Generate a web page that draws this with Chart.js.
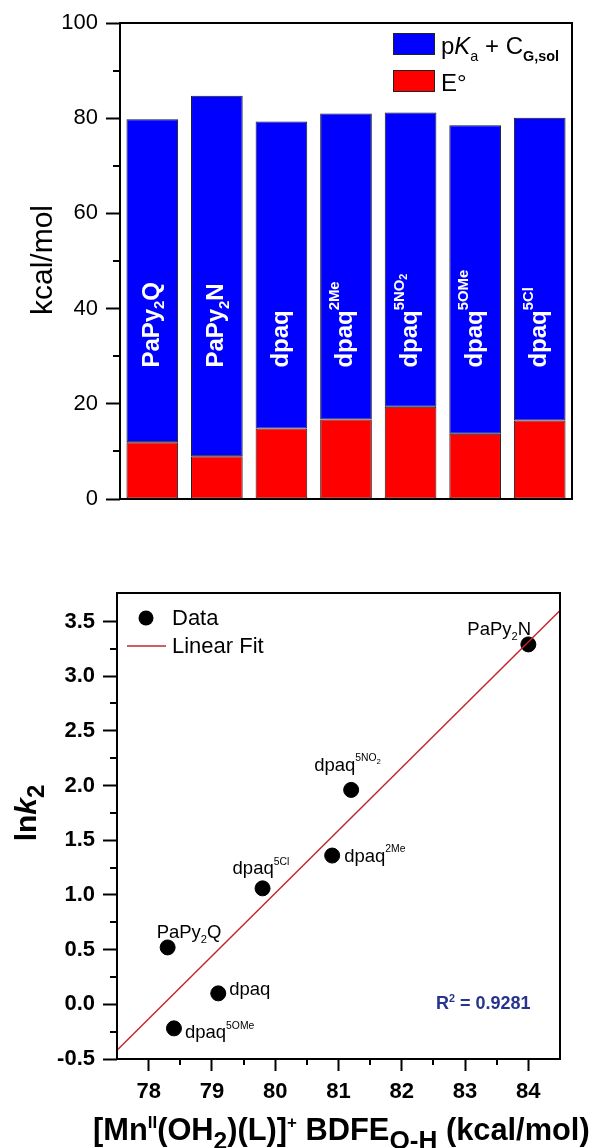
<!DOCTYPE html>
<html><head><meta charset="utf-8">
<script src="https://cdn.jsdelivr.net/npm/chart.js@4.4.0/dist/chart.umd.min.js"></script>
<style>
html,body{margin:0;padding:0;background:#fff;width:593px;height:1148px;overflow:hidden}
#w1{position:absolute;left:0;top:0;width:593px;height:540px}
#w2{position:absolute;left:0;top:560px;width:593px;height:588px}
canvas{display:block}
</style></head><body>
<div id="w1"><canvas id="c1" width="593" height="540"></canvas></div>
<div id="w2"><canvas id="c2" width="593" height="588"></canvas></div>
<script>
// ---------- DATA ----------
const categories = ['PaPy2Q', 'PaPy2N', 'dpaq', 'dpaq2Me', 'dpaq5NO2', 'dpaq5OMe', 'dpaq5Cl'];
const eValues   = [11.9, 9.0, 14.8, 16.7, 19.4, 13.7, 16.5];
const pkaValues = [67.9, 75.7, 64.5, 64.3, 61.8, 64.8, 63.6];
const barYTicks = [0, 20, 40, 60, 80, 100];
const barYMinor = [10, 30, 50, 70, 90];

// same order as categories
const bdfe = [78.3, 84.0, 79.1, 80.9, 81.2, 78.4, 79.8];
const lnk2 = [0.52, 3.29, 0.10, 1.36, 1.96, -0.22, 1.06];
const fitX = [77.5, 84.5];
const fitY = [-0.42, 3.60];
const scatterXTicks = [78, 79, 80, 81, 82, 83, 84];
const scatterXMinor = [78.5, 79.5, 80.5, 81.5, 82.5, 83.5];
const scatterYTicks = [-0.5, 0, 0.5, 1, 1.5, 2, 2.5, 3, 3.5];
const scatterYMinor = [-0.25, 0.25, 0.75, 1.25, 1.75, 2.25, 2.75, 3.25];
const r2Text = '0.9281';

// rich text for the category names (text + kind)
const categoryRich = [
  [['PaPy','n'],['2','sub'],['Q','n']],
  [['PaPy','n'],['2','sub'],['N','n']],
  [['dpaq','n']],
  [['dpaq','n'],['2Me','sup']],
  [['dpaq','n'],['5NO','sup'],['2','supsub']],
  [['dpaq','n'],['5OMe','sup']],
  [['dpaq','n'],['5Cl','sup']]
];
const legendTop = [
  [['p','n'],['K','ni'],['a','sub'],[' + C','n'],['G,sol','subb']],
  [['E°','n']]
];
const xTitleRich = [['[Mn','n'],['II','sup'],['(OH','n'],['2','sub'],[')(L)]','n'],['+','sup'],[' BDFE','n'],['O-H','sub2'],[' (kcal/mol)','n']];
const yTitleRich = [['ln','n'],['k','ni'],['2','sub']];

// ---------- helpers ----------
const FONT = '"Liberation Sans", Arial, Helvetica, sans-serif';
Chart.defaults.font.family = FONT;
Chart.defaults.color = '#000';

function fontStr(size, weight, italic){ return (italic?'italic ':'normal ') + weight + ' ' + size + 'px ' + FONT; }
function drawRich(ctx, parts, x, y, base, styles, measureOnly){
  ctx.save(); ctx.textAlign='left'; ctx.textBaseline='alphabetic'; ctx.fillStyle = base.color || '#000';
  let cx = x;
  for (const [t, kind] of parts){
    const st = styles[kind] || {};
    const size = base.size * (st.s || 1);
    ctx.font = fontStr(size, st.w || base.weight, st.i);
    if (!measureOnly) ctx.fillText(t, cx, y + (st.dy || 0) * base.size);
    cx += ctx.measureText(t).width;
  }
  ctx.restore();
  return cx - x;
}

// ---------- TOP CHART ----------
const barLabelStyles = {
  n:{}, sub:{s:0.62, dy:0.22}, sup:{s:0.62, dy:-0.55}, supsub:{s:0.45, dy:-0.42}
};
const legendStyles = {
  n:{}, ni:{i:true}, sub:{s:0.6, dy:0.3}, subb:{s:0.6, dy:0.3, w:'bold'}
};
const topPlugin = {
  id:'topDecor',
  afterDatasetsDraw(chart){
    const ctx = chart.ctx, ys = chart.scales.y;
    const meta = chart.getDatasetMeta(0);
    const startY = ys.getPixelForValue(27.6);
    const size = 24;
    categoryRich.forEach((parts, i) => {
      const cx = meta.data[i].x;
      ctx.save();
      ctx.translate(cx, startY);
      ctx.rotate(-Math.PI/2);
      drawRich(ctx, parts, 0, 0.27*size, {size, weight:'bold', color:'#fff'}, barLabelStyles);
      ctx.restore();
    });
  },
  afterDraw(chart){
    const ctx = chart.ctx, ca = chart.chartArea, ys = chart.scales.y;
    ctx.save();
    ctx.strokeStyle = '#000'; ctx.lineWidth = 2;
    ctx.strokeRect(ca.left, ca.top, ca.right - ca.left, ca.bottom - ca.top);
    ctx.beginPath();
    barYMinor.forEach(v => { const p = Math.round(ys.getPixelForValue(v)); ctx.moveTo(ca.left - 7, p); ctx.lineTo(ca.left, p); });
    ctx.stroke();
    // legend
    const rows = [{c:'#0000ff', y:33}, {c:'#ff0000', y:70}];
    rows.forEach((r, i) => {
      ctx.fillStyle = r.c; ctx.fillRect(393, r.y, 42, 22);
      ctx.lineWidth = 1; ctx.strokeStyle = '#222'; ctx.strokeRect(393.5, r.y + 0.5, 41, 21);
      drawRich(ctx, legendTop[i], 441, r.y + 21, {size:24, weight:'normal', color:'#000'}, legendStyles);
    });
    // y title
    ctx.translate(52, (ca.top + ca.bottom)/2 - 1);
    ctx.rotate(-Math.PI/2);
    ctx.font = fontStr(30, 'normal'); ctx.fillStyle = '#000'; ctx.textAlign = 'center'; ctx.textBaseline = 'alphabetic';
    ctx.fillText('kcal/mol', 0, 0);
    ctx.restore();
  }
};

new Chart(document.getElementById('c1'), {
  type:'bar',
  data:{
    labels: categories,
    datasets:[
      {label:'E°', data:eValues, backgroundColor:'#ff0000', borderColor:'#1a1a1a', borderWidth:1, borderSkipped:false, barPercentage:0.8, categoryPercentage:1},
      {label:'pKa + CG,sol', data:pkaValues, backgroundColor:'#0000ff', borderColor:'#1a1a1a', borderWidth:1, borderSkipped:false, barPercentage:0.8, categoryPercentage:1}
    ]
  },
  options:{
    responsive:false, animation:false, devicePixelRatio:1,
    layout:{padding:{left:0, top:23, right:21, bottom:0}},
    plugins:{legend:{display:false}, tooltip:{enabled:false}},
    scales:{
      x:{stacked:true, ticks:{display:false}, grid:{display:false, drawTicks:false}, border:{display:false},
         afterFit:s => { s.height = 41; }},
      y:{stacked:true, min:0, max:100,
         afterBuildTicks:s => { s.ticks = barYTicks.map(v => ({value:v})); },
         ticks:{color:'#000', font:{size:22}, padding:8},
         grid:{drawOnChartArea:false, drawTicks:true, tickLength:14, tickWidth:2, tickColor:'#000'},
         border:{display:false},
         afterFit:s => { s.width = 120; }}
    }
  },
  plugins:[topPlugin]
});

// ---------- BOTTOM CHART ----------
const ptStyles = { n:{}, sub:{s:0.6, dy:0.25}, sup:{s:0.56, dy:-0.52}, supsub:{s:0.42, dy:-0.4} };
const ptLabelOffsets = [[-11,-9],[-61,-9],[11,2],[12,6],[-37,-19],[11,10],[-30,-14]];
const titleStyles = { n:{}, ni:{i:true}, sup:{s:0.55, dy:-0.4}, sub:{s:0.8, dy:0.28}, sub2:{s:0.85, dy:0.3} };

const bottomPlugin = {
  id:'bottomDecor',
  afterDatasetsDraw(chart){
    const ctx = chart.ctx, xs = chart.scales.x, ys = chart.scales.y;
    categoryRich.forEach((parts, i) => {
      const px = xs.getPixelForValue(bdfe[i]), py = ys.getPixelForValue(lnk2[i]);
      const o = ptLabelOffsets[i];
      drawRich(ctx, parts, px + o[0], py + o[1], {size:18.5, weight:'normal', color:'#000'}, ptStyles);
    });
  },
  afterDraw(chart){
    const ctx = chart.ctx, ca = chart.chartArea, xs = chart.scales.x, ys = chart.scales.y;
    ctx.save();
    ctx.strokeStyle = '#000'; ctx.lineWidth = 2;
    ctx.strokeRect(ca.left, ca.top, ca.right - ca.left, ca.bottom - ca.top);
    ctx.beginPath();
    scatterYMinor.forEach(v => { const p = Math.round(ys.getPixelForValue(v)); ctx.moveTo(ca.left - 7, p); ctx.lineTo(ca.left, p); });
    scatterXMinor.forEach(v => { const p = Math.round(xs.getPixelForValue(v)); ctx.moveTo(p, ca.bottom); ctx.lineTo(p, ca.bottom + 6); });
    ctx.stroke();
    // legend
    ctx.fillStyle = '#000';
    ctx.beginPath(); ctx.arc(146, 58, 7.5, 0, Math.PI*2); ctx.fill();
    ctx.strokeStyle = '#c0272d'; ctx.lineWidth = 1.5;
    ctx.beginPath(); ctx.moveTo(127, 86); ctx.lineTo(166, 86); ctx.stroke();
    ctx.font = fontStr(22, 'normal'); ctx.textAlign = 'left'; ctx.textBaseline = 'alphabetic'; ctx.fillStyle = '#000';
    ctx.fillText('Data', 172, 65);
    ctx.fillText('Linear Fit', 172, 93);
    // R^2
    drawRich(ctx, [['R','n'],['2','sup'],[' = ' + r2Text,'n']], 436, 449, {size:18, weight:'bold', color:'#26348c'}, {n:{}, sup:{s:0.6, dy:-0.4}});
    // x title
    drawRich(ctx, xTitleRich, 93, 580, {size:30.8, weight:'bold', color:'#000'}, titleStyles);
    // y title
    const w = drawRich(ctx, yTitleRich, 0, 0, {size:30, weight:'bold'}, titleStyles, true);
    ctx.translate(36, 253);
    ctx.rotate(-Math.PI/2);
    drawRich(ctx, yTitleRich, -w/2, 0, {size:30, weight:'bold', color:'#000'}, titleStyles);
    ctx.restore();
  }
};

new Chart(document.getElementById('c2'), {
  type:'scatter',
  data:{
    datasets:[
      {type:'line', label:'Linear Fit', data: fitX.map((x, i) => ({x, y:fitY[i]})), borderColor:'#c0272d', borderWidth:1.5, pointRadius:0, fill:false, order:0},
      {label:'Data', data: bdfe.map((x, i) => ({x, y:lnk2[i]})), backgroundColor:'#000', borderColor:'#000', pointRadius:7.5, pointBorderWidth:1, order:1}
    ]
  },
  options:{
    responsive:false, animation:false, devicePixelRatio:1,
    layout:{padding:{left:0, top:33, right:33, bottom:0}},
    plugins:{legend:{display:false}, tooltip:{enabled:false}},
    scales:{
      x:{type:'linear', min:77.5, max:84.5,
         afterBuildTicks:s => { s.ticks = scatterXTicks.map(v => ({value:v})); },
         ticks:{color:'#000', font:{size:22, weight:'bold'}, padding:8, maxRotation:0},
         grid:{drawOnChartArea:false, drawTicks:true, tickLength:12, tickWidth:2, tickColor:'#000'},
         border:{display:false},
         afterFit:s => { s.height = 89; }},
      y:{type:'linear', min:-0.5, max:3.76,
         afterBuildTicks:s => { s.ticks = scatterYTicks.map(v => ({value:v})); },
         ticks:{color:'#000', font:{size:22, weight:'bold'}, padding:8, callback:v => Number(v).toFixed(1)},
         grid:{drawOnChartArea:false, drawTicks:true, tickLength:14, tickWidth:2, tickColor:'#000'},
         border:{display:false},
         afterFit:s => { s.width = 117; }}
    }
  },
  plugins:[bottomPlugin]
});
</script>
</body></html>
